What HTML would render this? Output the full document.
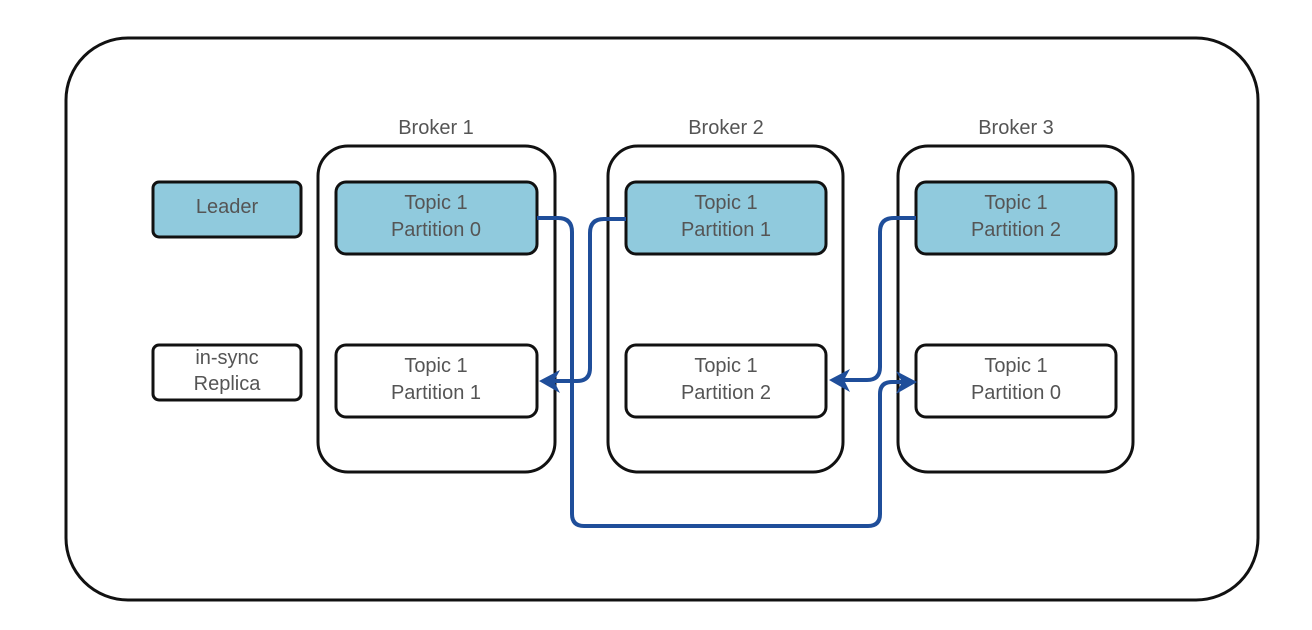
<!DOCTYPE html>
<html><head><meta charset="utf-8"><style>
html,body{margin:0;padding:0;background:#fff;width:1312px;height:630px;overflow:hidden}
text{font-family:"Liberation Sans",sans-serif;fill:#555;font-size:20px;text-anchor:middle}
</style></head><body>
<svg width="1312" height="630" viewBox="0 0 1312 630" xmlns="http://www.w3.org/2000/svg">
<rect x="66" y="38" width="1192" height="562" rx="62" fill="#fff" stroke="#111" stroke-width="3"/>
<g fill="#fff" stroke="#111" stroke-width="3">
<rect x="318" y="146" width="237" height="326" rx="30"/>
<rect x="608" y="146" width="235" height="326" rx="30"/>
<rect x="898" y="146" width="235" height="326" rx="30"/>
</g>
<text x="436" y="134">Broker 1</text>
<text x="726" y="134">Broker 2</text>
<text x="1016" y="134">Broker 3</text>
<g stroke="#111" stroke-width="3">
<rect x="153" y="182" width="148" height="55" rx="6" fill="#90cadd"/>
<rect x="153" y="345" width="148" height="55" rx="6" fill="#fff"/>
<rect x="336" y="182" width="201" height="72" rx="10" fill="#90cadd"/>
<rect x="626" y="182" width="200" height="72" rx="10" fill="#90cadd"/>
<rect x="916" y="182" width="200" height="72" rx="10" fill="#90cadd"/>
<rect x="336" y="345" width="201" height="72" rx="10" fill="#fff"/>
<rect x="626" y="345" width="200" height="72" rx="10" fill="#fff"/>
<rect x="916" y="345" width="200" height="72" rx="10" fill="#fff"/>
</g>
<text x="227" y="213">Leader</text>
<text x="227" y="364">in-sync</text>
<text x="227" y="390">Replica</text>
<text x="436" y="209">Topic 1</text><text x="436" y="236">Partition 0</text>
<text x="726" y="209">Topic 1</text><text x="726" y="236">Partition 1</text>
<text x="1016" y="209">Topic 1</text><text x="1016" y="236">Partition 2</text>
<text x="436" y="372">Topic 1</text><text x="436" y="399">Partition 1</text>
<text x="726" y="372">Topic 1</text><text x="726" y="399">Partition 2</text>
<text x="1016" y="372">Topic 1</text><text x="1016" y="399">Partition 0</text>
<g fill="none" stroke="#1f4e9a" stroke-width="4">
<path d="M537 218 H558 Q572 218 572 232 V514 Q572 526 584 526 H868 Q880 526 880 514 V394 Q880 382 892 382 H905"/>
<path d="M626 219 H604 Q590 219 590 233 V368 Q590 381 577 381 H552"/>
<path d="M916 218 H894 Q880 218 880 232 V367 Q880 380 867 380 H842"/>
</g>
<g fill="#1f4e9a">
<path d="M539 381 L560 370 L554 381 L560 393 Z"/>
<path d="M829 380 L850 369 L844 380 L850 392 Z"/>
<path d="M917 382 L896 371 L902 382 L896 394 Z"/>
</g>
</svg>
</body></html>
